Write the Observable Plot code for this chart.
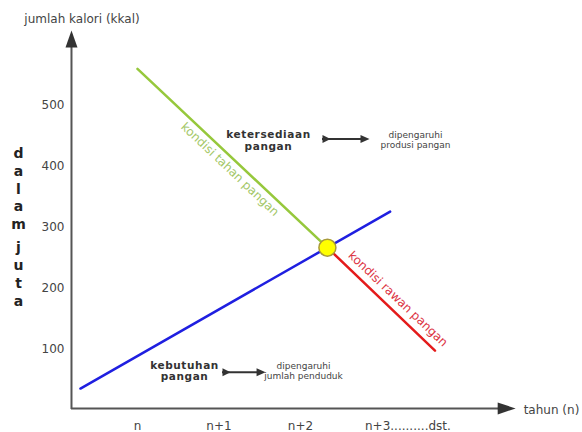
<!DOCTYPE html>
<html><head><meta charset="utf-8">
<script src="https://cdn.jsdelivr.net/npm/d3@7"></script>
<script src="https://cdn.jsdelivr.net/npm/@observablehq/plot@0.6"></script>
<style>
html,body{margin:0;padding:0;background:#fff;}
#chart svg{display:block;}
#chart g.bold-note text{letter-spacing:0.6px;}
</style></head><body><div id="chart"></div>
<script>
// ---- data ----
const years = ["n", "n+1", "n+2", "n+3..........dst."];
const yearPos = [0, 1, 2, 3];
const yTicks = [100, 200, 300, 400, 500];

const tahanX = [0, 2.33];          // kondisi tahan pangan (green)
const tahanY = [560, 267];
const rawanX = [2.33, 3.65];       // kondisi rawan pangan (red)
const rawanY = [267, 98];
const kebutuhanX = [-0.7, 3.1];    // kebutuhan pangan (blue)
const kebutuhanY = [36, 326];
const meetX = [2.33];
const meetY = [267];

const axisOriginX = -0.81, axisOriginY = 3.3;
const axisEndX = 4.64, axisEndY = 623;

const noteArrowX1 = [2.27, 1.043];
const noteArrowX2 = [2.847, 1.571];
const noteArrowY = [445, 62.8];

const boldLabels = ["ketersediaan\npangan", "kebutuhan\npangan"];
const boldLabelX = [1.607, 0.577];
const boldLabelY = [443, 65.1];
const noteLabels = ["dipengaruhi\nprodusi pangan", "dipengaruhi\njumlah penduduk"];
const noteLabelX = [3.411, 2.037];
const noteLabelY = [443.5, 65.6];

const lineLabels = ["kondisi tahan pangan", "kondisi rawan pangan"];
const lineLabelX = [1.135, 3.196];
const lineLabelY = [395.1, 182.8];
const lineLabelAngle = [43.4, 43.6];

// ---- helpers ----
const pts = (xs, ys) => xs.map((x, i) => ({x, y: ys[i]}));
const idx = a => a.map((_, i) => i);
const sym = f => ({draw(ctx, size) { const r = Math.sqrt(size / Math.PI); f(ctx, r); }});
const headUp = sym((c, r) => { c.moveTo(0, 0); c.lineTo(0.6*r, 1.7*r); c.lineTo(-0.6*r, 1.7*r); c.closePath(); });
const headRight = sym((c, r) => { c.moveTo(0, 0); c.lineTo(-1.8*r, -0.6*r); c.lineTo(-1.8*r, 0.6*r); c.closePath(); });
const tailRight = sym((c, r) => { c.moveTo(0, -0.4*r); c.lineTo(0.8*r, 0); c.lineTo(0, 0.4*r); c.closePath(); });
const smallHead = sym((c, r) => { c.moveTo(0, 0); c.lineTo(-0.9*r, -0.4*r); c.lineTo(-0.9*r, 0.4*r); c.closePath(); });

const FONT = "DejaVu Sans";
const axisColor = "#555";

const plot = Plot.plot({
  width: 582, height: 432,
  marginTop: 0, marginRight: 0, marginBottom: 0, marginLeft: 0,
  x: {domain: [-137/81.5, 445/81.5], axis: null},
  y: {domain: [-22/0.61, 410/0.61], axis: null},
  style: {fontFamily: FONT, background: "#fff"},
  marks: [
    // axes
    Plot.ruleX([axisOriginX], {y1: axisOriginY - 1.5, y2: axisEndY - 10, stroke: axisColor, strokeWidth: 2}),
    Plot.ruleY([axisOriginY], {x1: axisOriginX, x2: axisEndX - 0.1, stroke: axisColor, strokeWidth: 2}),
    Plot.dot([0], {x: axisOriginX, y: axisEndY, r: 10, symbol: headUp, fill: "#333", stroke: "none"}),
    Plot.dot([0], {x: axisEndX, y: axisOriginY, r: 10, symbol: headRight, fill: "#333", stroke: "none"}),
    // tick labels
    Plot.text(yTicks, {x: axisOriginX, y: d => d, text: d => String(d), textAnchor: "end", dx: -7, fontSize: 12, fill: "#444"}),
    Plot.text(yearPos.slice(0, 3), {x: d => d, y: axisOriginY, text: d => years[d], dy: 18, fontSize: 12, fill: "#444"}),
    Plot.text([3], {x: d => d, y: axisOriginY, text: d => years[d], textAnchor: "start", dx: -17, dy: 18, fontSize: 12, fill: "#444"}),
    // axis titles
    Plot.text(["jumlah kalori (kkal)"], {x: axisOriginX, y: axisEndY, text: d => d, dx: 10.5, dy: -11.5, fontSize: 12, fill: "#444"}),
    Plot.text(["tahun (n)"], {x: axisEndX, y: axisOriginY, text: d => d, textAnchor: "start", dx: 8, dy: 2, fontSize: 12, fill: "#444"}),
    Plot.text(["d\na\nl\na\nm"], {x: -1.46, y: 364.8, text: d => d, fontSize: 14, fontWeight: "bold", lineHeight: 1.27, fill: "#222"}),
    Plot.text(["j\nu\nt\na"], {x: -1.46, y: 225.4, text: d => d, fontSize: 14, fontWeight: "bold", lineHeight: 1.3, fill: "#222"}),
    // lines
    Plot.line(pts(kebutuhanX, kebutuhanY), {x: "x", y: "y", stroke: "#1f1fe0", strokeWidth: 2.5}),
    Plot.line(pts(tahanX, tahanY), {x: "x", y: "y", stroke: "#96c83c", strokeWidth: 2.5}),
    Plot.line(pts(rawanX, rawanY), {x: "x", y: "y", stroke: "#e41b1b", strokeWidth: 2.5}),
    Plot.dot(pts(meetX, meetY), {x: "x", y: "y", r: 8.5, fill: "#ffff00", stroke: "#a89a3a", strokeWidth: 1.5}),
    // line labels
    Plot.text(idx(lineLabels), {x: i => lineLabelX[i], y: i => lineLabelY[i], text: i => lineLabels[i], rotate: i => lineLabelAngle[i], fontSize: 12, fill: i => i === 0 ? "#a3c768" : "#dc3444"}),
    // annotations
    Plot.text(idx(boldLabels), {x: i => boldLabelX[i], y: i => boldLabelY[i], text: i => boldLabels[i], fontSize: 10.5, fontWeight: "bold", lineHeight: 1.1, fill: "#333", className: "bold-note"}),
    Plot.text(idx(noteLabels), {x: i => noteLabelX[i], y: i => noteLabelY[i], text: i => noteLabels[i], fontSize: 9, lineHeight: 1.15, fill: "#444"}),
    Plot.ruleY(idx(noteArrowY), {y: i => noteArrowY[i], x1: i => noteArrowX1[i], x2: i => noteArrowX2[i] - 0.05, stroke: "#333", strokeWidth: 2}),
    Plot.dot(idx(noteArrowY), {x: i => noteArrowX1[i], y: i => noteArrowY[i], r: 10, symbol: tailRight, fill: "#333", stroke: "none"}),
    Plot.dot(idx(noteArrowY), {x: i => noteArrowX2[i], y: i => noteArrowY[i], r: 10, symbol: smallHead, fill: "#333", stroke: "none"})
  ]
});
document.getElementById("chart").append(plot);
</script>
</body></html>
